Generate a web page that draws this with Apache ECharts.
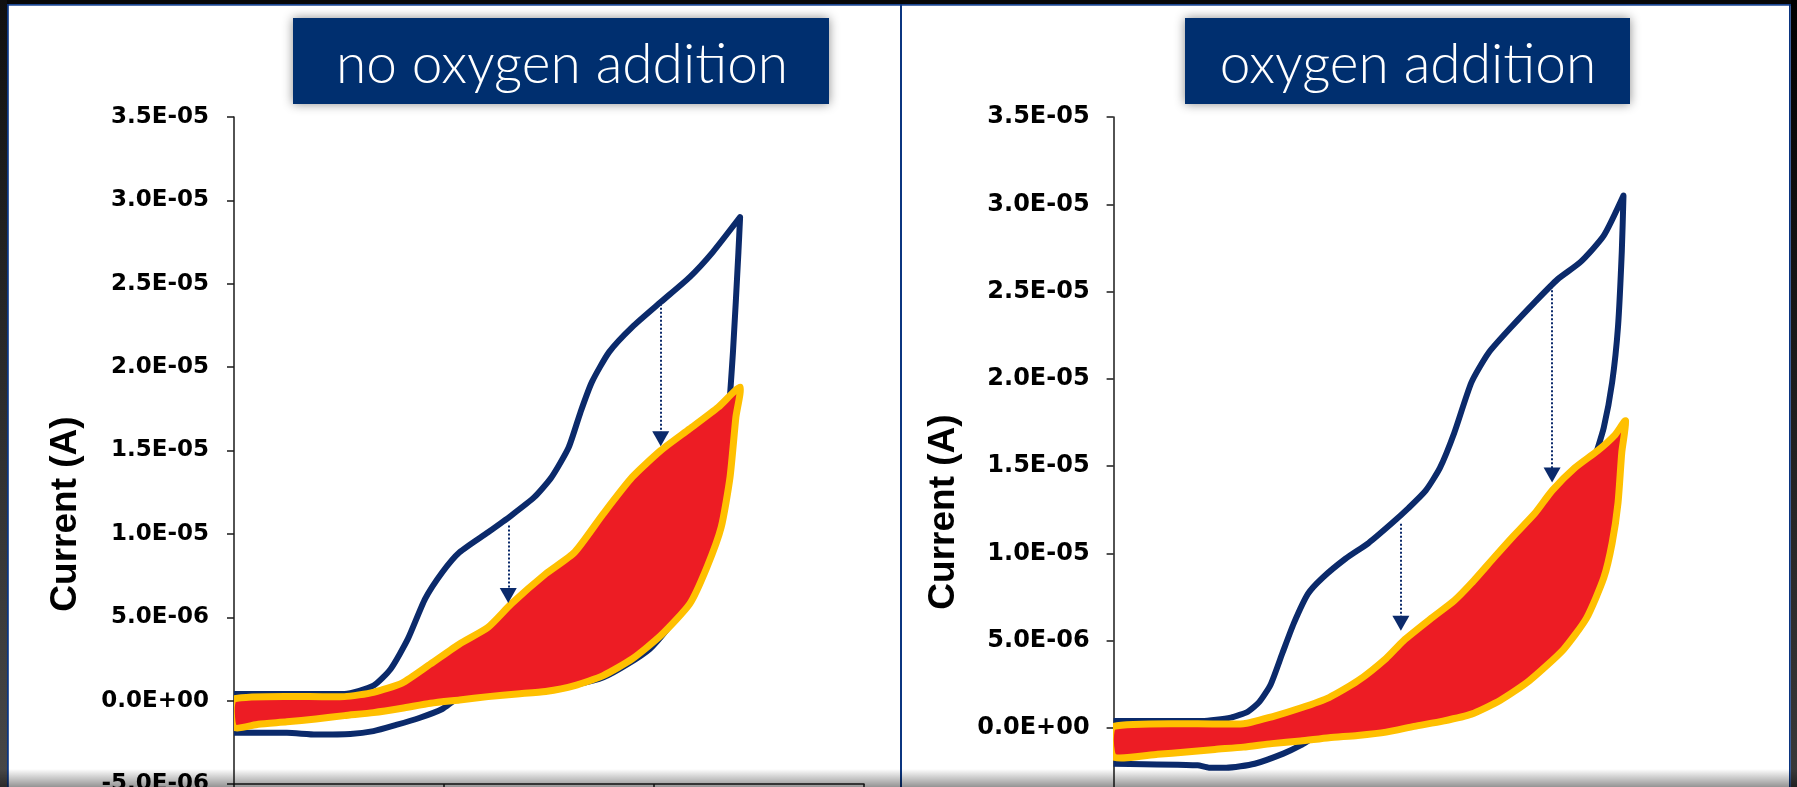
<!DOCTYPE html>
<html>
<head>
<meta charset="utf-8">
<script src="https://cdn.jsdelivr.net/npm/echarts@6/dist/echarts.min.js"></script>
<style>
html,body{margin:0;padding:0;background:#fff;}
#chart{width:1797px;height:787px;}
</style>
</head>
<body>
<div id="chart"></div>
<script>
// ---------------- data (x: potential in V, y: current in A) ----------------
var panelTitles = ['no oxygen addition', 'oxygen addition'];
var yAxisTitle = 'Current (A)';
var yMin = -5e-6, yMax = 3.5e-5, yStep = 5e-6;
var xMin = 0, xMax = 1.5, xStep = 0.5;

// left panel: no oxygen addition
var leftBlue = [
  [0.000,0.4e-6],[0.263,0.4e-6],[0.332,0.9e-6],[0.373,1.9e-6],[0.414,3.7e-6],[0.455,6.1e-6],
  [0.496,7.7e-6],[0.537,8.9e-6],[0.605,10.1e-6],[0.660,11.1e-6],[0.715,12.2e-6],[0.756,13.4e-6],
  [0.797,15.2e-6],[0.825,17.3e-6],[0.852,19.1e-6],[0.893,20.9e-6],[0.948,22.4e-6],[1.016,23.9e-6],
  [1.085,25.4e-6],[1.140,26.9e-6],[1.205,29.0e-6],
  [1.201,26.9e-6],[1.188,20.9e-6],[1.170,14.9e-6],[1.150,11.5e-6],[1.120,8.5e-6],[1.070,5.6e-6],
  [0.990,3.1e-6],[0.880,1.4e-6],[0.742,0.6e-6],[0.620,0.4e-6],[0.537,0.2e-6],[0.496,-0.5e-6],
  [0.441,-1.04e-6],[0.386,-1.46e-6],[0.332,-1.83e-6],[0.277,-2.0e-6],[0.195,-2.03e-6],
  [0.126,-1.93e-6],[0.000,-1.93e-6]
];
var leftYellow = [
  [0.000,0.1e-6],[0.263,0.24e-6],[0.332,0.5e-6],[0.400,1.05e-6],[0.468,2.2e-6],[0.537,3.4e-6],
  [0.605,4.4e-6],[0.660,5.8e-6],[0.742,7.6e-6],[0.811,8.9e-6],[0.879,11.2e-6],[0.948,13.4e-6],
  [1.016,15.0e-6],[1.085,16.3e-6],[1.153,17.6e-6],[1.205,18.8e-6],
  [1.195,17.0e-6],[1.181,13.4e-6],[1.160,10.4e-6],[1.126,8.0e-6],[1.085,5.8e-6],[1.016,3.9e-6],
  [0.948,2.5e-6],[0.879,1.5e-6],[0.811,0.9e-6],[0.742,0.55e-6],[0.674,0.4e-6],[0.605,0.24e-6],
  [0.537,0.04e-6],[0.468,-0.16e-6],[0.400,-0.46e-6],[0.332,-0.72e-6],[0.263,-0.9e-6],
  [0.195,-1.1e-6],[0.126,-1.27e-6],[0.058,-1.42e-6],[0.000,-1.6e-6]
];
// arrows: [x, from y, to y]
var leftArrows = [[0.653,10.5e-6,6.3e-6],[1.016,23.8e-6,15.7e-6]];

// right panel: oxygen addition
var rightBlue = [
  [0.000,0.4e-6],[0.210,0.4e-6],[0.279,0.6e-6],[0.320,0.95e-6],[0.347,1.5e-6],[0.374,2.5e-6],
  [0.402,4.3e-6],[0.429,6.0e-6],[0.463,7.7e-6],[0.497,8.6e-6],[0.552,9.7e-6],[0.607,10.6e-6],
  [0.661,11.7e-6],[0.702,12.6e-6],[0.743,13.6e-6],[0.777,14.9e-6],[0.811,16.9e-6],[0.852,19.8e-6],
  [0.893,21.5e-6],[0.948,23.0e-6],[1.003,24.4e-6],[1.057,25.7e-6],[1.112,26.7e-6],[1.167,28.2e-6],
  [1.214,30.5e-6],
  [1.210,27.3e-6],[1.201,23.0e-6],[1.187,19.8e-6],[1.167,17.2e-6],[1.146,15.5e-6],[1.112,12.6e-6],
  [1.057,8.4e-6],[0.962,4.0e-6],[0.852,2.0e-6],[0.716,0.8e-6],[0.568,0.0e-6],[0.499,-0.23e-6],
  [0.445,-0.99e-6],[0.404,-1.46e-6],[0.336,-2.04e-6],[0.268,-2.27e-6],[0.227,-2.27e-6],
  [0.200,-2.13e-6],[0.000,-2.04e-6]
];
var rightYellow = [
  [0.000,0.1e-6],[0.309,0.25e-6],[0.377,0.65e-6],[0.445,1.15e-6],[0.513,1.75e-6],[0.581,2.7e-6],
  [0.649,4.0e-6],[0.690,5.0e-6],[0.757,6.3e-6],[0.811,7.3e-6],[0.852,8.3e-6],[0.907,9.8e-6],
  [0.948,10.9e-6],[1.003,12.3e-6],[1.044,13.6e-6],[1.098,14.9e-6],[1.153,15.9e-6],[1.194,16.8e-6],
  [1.219,17.6e-6],
  [1.210,15.8e-6],[1.201,12.9e-6],[1.187,10.6e-6],[1.167,8.6e-6],[1.126,6.3e-6],[1.071,4.5e-6],
  [0.989,2.7e-6],[0.921,1.6e-6],[0.852,0.8e-6],[0.784,0.4e-6],[0.716,0.1e-6],[0.649,-0.23e-6],
  [0.581,-0.42e-6],[0.513,-0.55e-6],[0.445,-0.74e-6],[0.377,-0.89e-6],[0.309,-1.09e-6],
  [0.241,-1.22e-6],[0.173,-1.37e-6],[0.105,-1.5e-6],[0.000,-1.65e-6]
];
var rightArrows = [[0.684,11.7e-6,6.0e-6],[1.044,25.3e-6,14.5e-6]];

// ---------------- styling ----------------
var NAVY = '#0b2a6b';
var BOX = '#002f6f';
var YELLOW = '#ffc000';
var RED = '#ed1c24';
var LABEL_FONT = '"DejaVu Sans", Verdana, sans-serif';

function sci(v) {
  if (Math.abs(v) < 1e-15) return '0.0E+00';
  var e = Math.floor(Math.log10(Math.abs(v)) + 1e-9);
  var s = (v / Math.pow(10, e)).toFixed(1);
  if (Math.abs(parseFloat(s)) >= 10) { e += 1; s = (v / Math.pow(10, e)).toFixed(1); }
  return s + 'E' + (e < 0 ? '-' : '+') + String(Math.abs(e)).padStart(2, '0');
}

function loopRenderer(points) {
  return function (params, api) {
    if (params.dataIndex !== 0) return;
    var pts = points.map(function (p) { return api.coord(p); });
    return {
      type: 'polygon',
      shape: { points: pts, smooth: 0.2 },
      style: { fill: RED, stroke: YELLOW, lineWidth: 7, lineJoin: 'round' }
    };
  };
}

function arrowLines(arr) {
  return arr.map(function (a) { return [{ coord: [a[0], a[1]] }, { coord: [a[0], a[2]] }]; });
}

function yAxisCfg(gridIndex, fontSize, margin) {
  return {
    type: 'value', gridIndex: gridIndex, min: yMin, max: yMax, interval: yStep,
    axisLine: { show: true, lineStyle: { color: '#1a1a1a', width: 1.5 } },
    axisTick: { show: true, length: 7, lineStyle: { color: '#1a1a1a', width: 1.5 } },
    splitLine: { show: false },
    axisLabel: {
      formatter: sci, margin: margin, color: '#000',
      fontFamily: LABEL_FONT, fontWeight: 'bold', fontSize: fontSize
    }
  };
}
function xAxisCfg(gridIndex) {
  return {
    type: 'value', gridIndex: gridIndex, min: xMin, max: xMax, interval: xStep,
    axisLine: { show: true, onZero: false, lineStyle: { color: '#1a1a1a', width: 1.5 } },
    axisTick: { show: true, length: 5, lineStyle: { color: '#1a1a1a', width: 1.5 } },
    splitLine: { show: false },
    axisLabel: { show: false }
  };
}

function panelSeries(gridIndex, blue, yellow, arrows) {
  return [
    {
      type: 'line', xAxisIndex: gridIndex, yAxisIndex: gridIndex, data: blue,
      symbol: 'none', smooth: 0.2, lineStyle: { color: NAVY, width: 6, join: 'round' },
      z: 2, silent: true
    },
    {
      type: 'custom', xAxisIndex: gridIndex, yAxisIndex: gridIndex, data: yellow,
      renderItem: loopRenderer(yellow), clip: true, z: 3, silent: true
    },
    {
      type: 'line', xAxisIndex: gridIndex, yAxisIndex: gridIndex, data: [], z: 4,
      markLine: {
        silent: true, symbol: ['none', 'triangle'], symbolSize: [17, 15],
        label: { show: false },
        lineStyle: { color: NAVY, width: 2, type: [2, 2] },
        data: arrowLines(arrows)
      }
    }
  ];
}

var chart = echarts.init(document.getElementById('chart'), null, { renderer: 'canvas' });

var titleFont = '300 55px Lato, "Open Sans", sans-serif';
var axisTitleFont = 'bold 37px "Liberation Sans", Arial, sans-serif';
var option = {
  animation: false,
  backgroundColor: '#ffffff',
  grid: [
    { left: 234, top: 117, width: 630, height: 667, containLabel: false, outerBoundsMode: 'none' },
    { left: 1113.6, top: 117, width: 630, height: 698.4, containLabel: false, outerBoundsMode: 'none' }
  ],
  xAxis: [xAxisCfg(0), xAxisCfg(1)],
  yAxis: [yAxisCfg(0, 23, 25), yAxisCfg(1, 24, 24)],
  series: [].concat(
    panelSeries(0, leftBlue, leftYellow, leftArrows),
    panelSeries(1, rightBlue, rightYellow, rightArrows)
  ),
  graphic: [
    // title boxes
    { type: 'rect', z: 50, shape: { x: 293, y: 18, width: 536, height: 86 },
      style: { fill: BOX, shadowBlur: 10, shadowColor: 'rgba(0,0,0,0.45)' } },
    { type: 'text', z: 51, x: 562, y: 65,
      style: { text: panelTitles[0], fill: '#ffffff', font: titleFont, align: 'center', verticalAlign: 'middle' } },
    { type: 'rect', z: 50, shape: { x: 1185, y: 18, width: 445, height: 86 },
      style: { fill: BOX, shadowBlur: 10, shadowColor: 'rgba(0,0,0,0.45)' } },
    { type: 'text', z: 51, x: 1408, y: 65,
      style: { text: panelTitles[1], fill: '#ffffff', font: titleFont, align: 'center', verticalAlign: 'middle' } },
    // axis titles
    { type: 'text', z: 51, x: 66, y: 514, rotation: Math.PI / 2,
      style: { text: yAxisTitle, fill: '#000', font: axisTitleFont, align: 'center', verticalAlign: 'middle' } },
    { type: 'text', z: 51, x: 944, y: 512, rotation: Math.PI / 2,
      style: { text: yAxisTitle, fill: '#000', font: axisTitleFont, align: 'center', verticalAlign: 'middle' } },
    // frame
    { type: 'rect', z: 100, shape: { x: 0, y: 0, width: 1797, height: 4.5 }, style: { fill: '#070707' } },
    { type: 'rect', z: 100, shape: { x: 0, y: 0, width: 7, height: 787 },
      style: { fill: new echarts.graphic.LinearGradient(0, 0, 0, 1, [{ offset: 0, color: '#101010' }, { offset: 1, color: '#484848' }]) } },
    { type: 'rect', z: 100, shape: { x: 1791, y: 0, width: 6, height: 787 },
      style: { fill: new echarts.graphic.LinearGradient(0, 0, 0, 1, [{ offset: 0, color: '#000000' }, { offset: 1, color: '#3a3a3a' }]) } },
    { type: 'rect', z: 101, shape: { x: 7, y: 4, width: 1784, height: 1.8 }, style: { fill: '#1c4690' } },
    { type: 'rect', z: 101, shape: { x: 7, y: 4, width: 1.8, height: 783 }, style: { fill: '#0b3580' } },
    { type: 'rect', z: 101, shape: { x: 1789, y: 4, width: 1.8, height: 783 }, style: { fill: '#0b3580' } },
    { type: 'rect', z: 101, shape: { x: 900, y: 4, width: 2, height: 783 }, style: { fill: '#0b3580' } },
    { type: 'rect', z: 102, shape: { x: 0, y: 769, width: 1797, height: 18 },
      style: { fill: new echarts.graphic.LinearGradient(0, 0, 0, 1, [{ offset: 0, color: 'rgba(0,0,0,0)' }, { offset: 1, color: 'rgba(0,0,0,0.42)' }]) } }
  ]
};
chart.setOption(option);
</script>
</body>
</html>
